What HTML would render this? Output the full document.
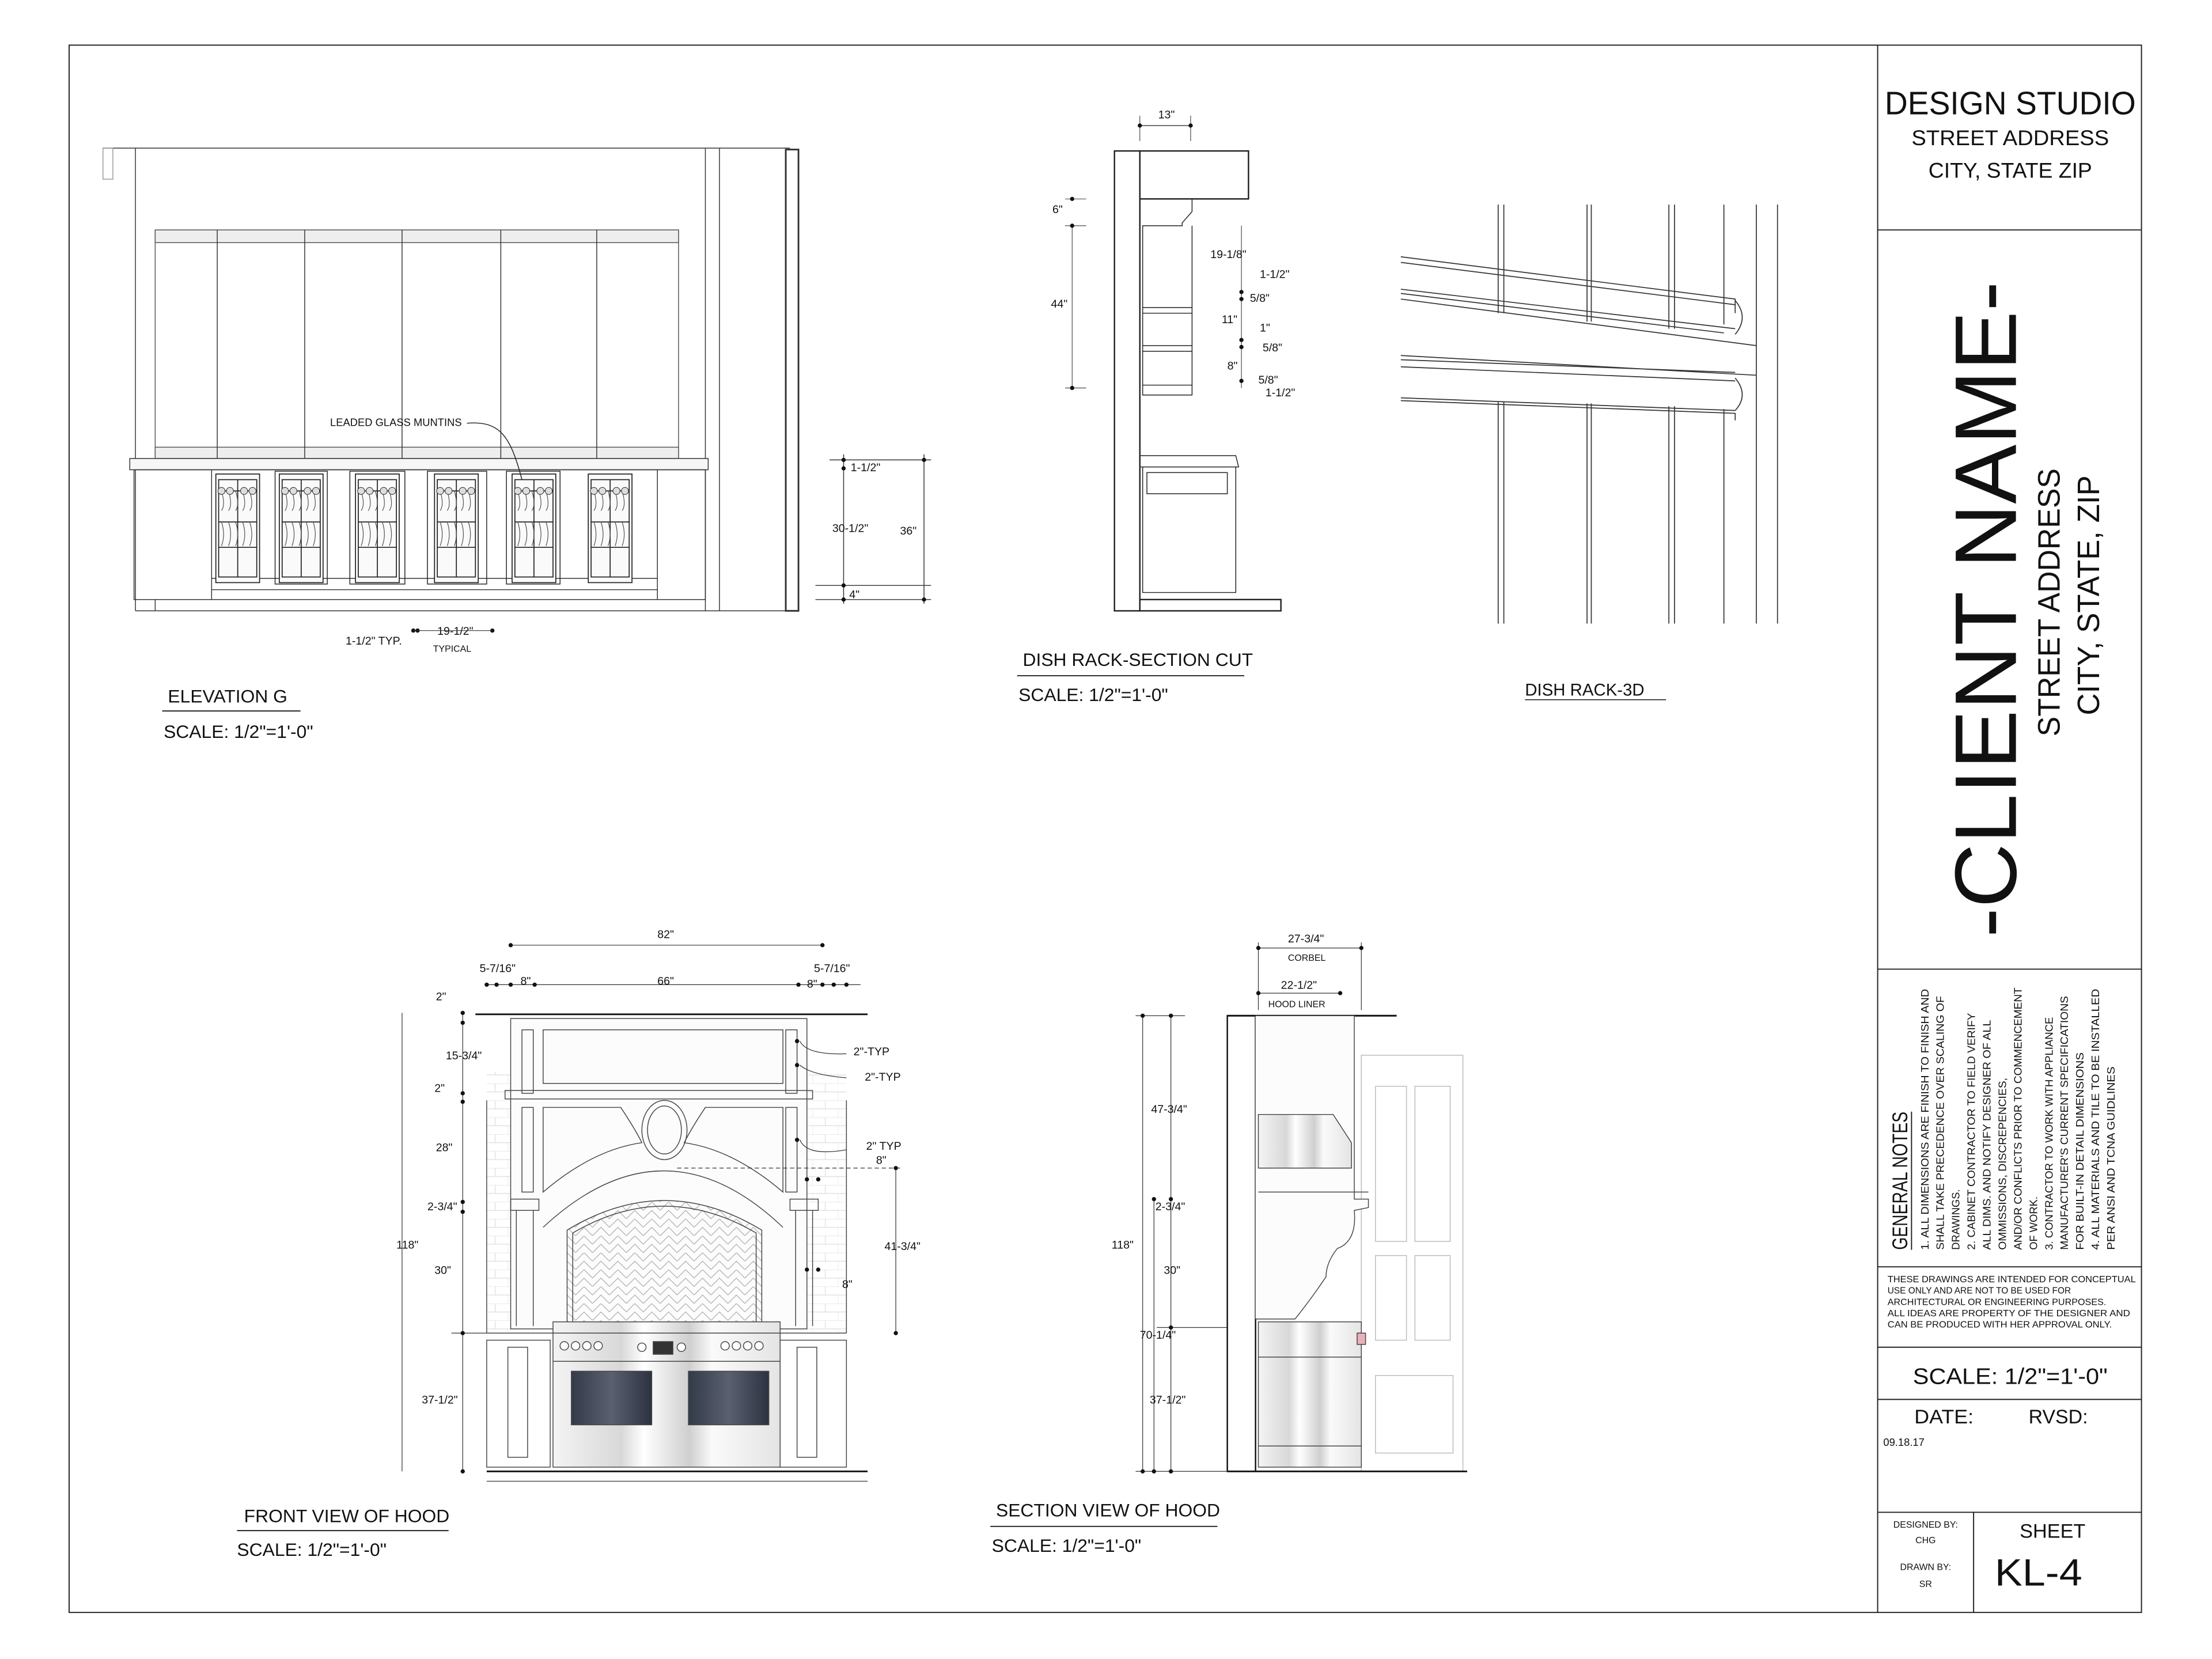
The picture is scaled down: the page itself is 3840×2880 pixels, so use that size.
<!DOCTYPE html>
<html><head><meta charset="utf-8"><style>
html,body{margin:0;padding:0;background:#fff;}
svg{display:block;}
text{font-family:"Liberation Sans",sans-serif;fill:#111;}
</style></head><body>
<svg width="3840" height="2880" viewBox="0 0 1568 1176" xmlns="http://www.w3.org/2000/svg">
<defs>
<pattern id="herr" width="12" height="12" patternUnits="userSpaceOnUse">
<path d="M0 6 L6 0 L12 6 M0 12 L6 6 L12 12" stroke="#aaa" stroke-width="0.5" fill="none"/>
</pattern>
<pattern id="tile" width="18" height="12" patternUnits="userSpaceOnUse">
<path d="M0 0 H18 M0 6 H18 M9 0 V6 M0 6 V12" stroke="#ddd" stroke-width="0.5" fill="none"/>
</pattern>
<linearGradient id="steel" x1="0" x2="1">
<stop offset="0" stop-color="#f4f4f4"/><stop offset="0.3" stop-color="#d8d8d8"/><stop offset="0.4" stop-color="#ffffff"/><stop offset="0.6" stop-color="#cfcfcf"/><stop offset="0.7" stop-color="#fafafa"/><stop offset="1" stop-color="#e4e4e4"/>
</linearGradient>
<linearGradient id="oven" x1="0" x2="1">
<stop offset="0" stop-color="#333a48"/><stop offset="0.5" stop-color="#5a6070"/><stop offset="1" stop-color="#2c3240"/>
</linearGradient>
<g id="door" fill="none" stroke="#222" stroke-width="0.7">
<rect x="0" y="0" width="31" height="77" fill="#fafafa"/>
<rect x="2" y="4" width="27" height="69" fill="none"/>
<line x1="15.5" y1="4" x2="15.5" y2="73"/>
<line x1="2" y1="12" x2="29" y2="12"/><line x1="2" y1="34" x2="29" y2="34"/><line x1="2" y1="52" x2="29" y2="52"/>
<path fill="none" d="M4 12 q3 10 0 14 M9 12 q3 10 0 14 M14 12 q3 10 0 14 M19 12 q3 10 0 14 M24 12 q3 10 0 14" stroke="#555" stroke-width="0.5"/>
<path fill="none" d="M4 34 q3 9 0 17 M9 34 q3 9 0 17 M14 34 q3 9 0 17 M19 34 q3 9 0 17 M24 34 q3 9 0 17" stroke="#555" stroke-width="0.5"/>
<circle cx="4" cy="12" r="2.5" fill="#ddd" stroke-width="0.4"/><circle cx="10" cy="12" r="2.5" fill="#ddd" stroke-width="0.4"/><circle cx="20" cy="12" r="2.5" fill="#ddd" stroke-width="0.4"/><circle cx="26" cy="12" r="2.5" fill="#ddd" stroke-width="0.4"/>
</g>
</defs>

<g fill="none" stroke="#222" stroke-width="0.8">
<rect x="49" y="32" width="1469" height="1111"/>
<line x1="1331" y1="32" x2="1331" y2="1143"/>
<line x1="1331" y1="163" x2="1518" y2="163"/>
<line x1="1331" y1="687" x2="1518" y2="687"/>
<line x1="1331" y1="898" x2="1518" y2="898"/>
<line x1="1331" y1="955" x2="1518" y2="955"/>
<line x1="1331" y1="992" x2="1518" y2="992"/>
<line x1="1331" y1="1072" x2="1518" y2="1072"/>
<line x1="1399" y1="1072" x2="1399" y2="1143"/>
</g>

<!-- ELEVATION G -->
<g fill="none" stroke="#333" stroke-width="0.6">
<line x1="73" y1="105" x2="560" y2="105"/>
<rect x="73" y="105" width="7" height="22" stroke="#999"/>
<line x1="96" y1="105" x2="96" y2="433"/>
<line x1="500" y1="105" x2="500" y2="433"/>
<line x1="510" y1="105" x2="510" y2="433"/>
<rect x="557" y="106" width="9" height="327" stroke-width="1.2"/>
<line x1="96" y1="433" x2="560" y2="433"/>
<rect x="110" y="163" width="371" height="162" stroke="#555"/>
<rect x="110" y="163" width="371" height="9" fill="#eee" stroke="#555"/>
<rect x="110" y="317" width="371" height="8" fill="#eee" stroke="#555"/>
<line x1="154" y1="163" x2="154" y2="325"/><line x1="216" y1="163" x2="216" y2="325"/>
<line x1="285" y1="163" x2="285" y2="325"/><line x1="355" y1="163" x2="355" y2="325"/>
<line x1="423" y1="163" x2="423" y2="325"/>
<rect x="92" y="325" width="410" height="8" fill="#f6f6f6"/>
<rect x="95" y="333" width="405" height="92"/>
<line x1="150" y1="333" x2="150" y2="425"/><line x1="466" y1="333" x2="466" y2="425"/>
<line x1="150" y1="410" x2="466" y2="410"/><line x1="150" y1="418" x2="466" y2="418"/>
<line x1="110" y1="425" x2="110" y2="433"/>
<line x1="588" y1="326" x2="660" y2="326"/><line x1="578" y1="415" x2="660" y2="415"/><line x1="578" y1="425" x2="660" y2="425"/>
<line x1="598" y1="322" x2="598" y2="428"/>
<line x1="655" y1="322" x2="655" y2="428"/>
</g>
<use href="#door" x="153" y="336"/>
<use href="#door" x="198" y="336"/>
<use href="#door" x="252" y="336"/>
<use href="#door" x="308" y="336"/>
<use href="#door" x="363" y="336"/>
<use href="#door" x="417" y="336"/>
<g fill="none" stroke="#222" stroke-width="0.6">
<rect x="195" y="334" width="37" height="80"/>
<rect x="248" y="334" width="39" height="80"/>
<rect x="303" y="334" width="42" height="80"/>
<rect x="359" y="334" width="38" height="80"/>
</g>
<path d="M331 300 C355 298 362 310 370 340" fill="none" stroke="#222" stroke-width="0.6"/>
<text x="234" y="302" font-size="7.5">LEADED GLASS MUNTINS</text>
<g font-size="8">
<text x="603" y="334">1-1/2"</text><text x="590" y="377">30-1/2"</text><text x="638" y="379">36"</text><text x="602" y="424">4"</text>
<text x="245" y="457">1-1/2" TYP.</text><text x="310" y="450">19-1/2"</text><text x="307" y="462" font-size="6.5">TYPICAL</text>
</g>
<g fill="#111"><circle cx="598" cy="326" r="1.5"/><circle cx="598" cy="332" r="1.5"/><circle cx="598" cy="415" r="1.5"/><circle cx="598" cy="425" r="1.5"/><circle cx="655" cy="326" r="1.5"/><circle cx="655" cy="425" r="1.5"/><circle cx="293" cy="447" r="1.5"/><circle cx="296" cy="447" r="1.5"/><circle cx="349" cy="447" r="1.5"/></g>
<line x1="293" y1="447" x2="349" y2="447" stroke="#333" stroke-width="0.5"/>
<text x="119" y="498" font-size="13">ELEVATION G</text>
<line x1="115" y1="504" x2="213" y2="504" stroke="#222" stroke-width="0.8"/>
<text x="116" y="523" font-size="13">SCALE: 1/2"=1'-0"</text>

<!-- DISH RACK SECTION -->
<g fill="none" stroke="#222" stroke-width="0.8">
<rect x="790" y="107" width="18" height="326" stroke-width="1"/>
<rect x="808" y="107" width="77" height="34" stroke-width="1"/>
<rect x="808" y="425" width="100" height="8" stroke-width="1"/>
<path d="M845 141 L845 150 L838 158 L838 160 L810 160 L810 280 L845 280 L845 160" stroke-width="0.6"/>
<line x1="810" y1="218" x2="845" y2="218" stroke-width="0.6"/><line x1="810" y1="222" x2="845" y2="222" stroke-width="0.6"/>
<line x1="810" y1="245" x2="845" y2="245" stroke-width="0.6"/><line x1="810" y1="249" x2="845" y2="249" stroke-width="0.6"/>
<line x1="810" y1="273" x2="845" y2="273" stroke-width="0.6"/>
<path d="M808 323 L876 323 L878 331 L808 331 M810 331 L810 420 L876 420 L876 331 M813 335 L870 335 L870 350 L813 350 Z" stroke-width="0.6"/>
<line x1="808" y1="89" x2="844" y2="89" stroke-width="0.5"/><line x1="808" y1="82" x2="808" y2="100" stroke-width="0.4"/><line x1="844" y1="82" x2="844" y2="100" stroke-width="0.4"/>
<line x1="755" y1="141" x2="770" y2="141" stroke-width="0.4"/><line x1="755" y1="160" x2="770" y2="160" stroke-width="0.4"/><line x1="755" y1="275" x2="770" y2="275" stroke-width="0.4"/>
<line x1="760" y1="160" x2="760" y2="275" stroke-width="0.4"/>
<line x1="880" y1="160" x2="880" y2="275" stroke-width="0.4"/>
</g>
<g fill="#111"><circle cx="808" cy="89" r="1.5"/><circle cx="844" cy="89" r="1.5"/><circle cx="760" cy="141" r="1.5"/><circle cx="760" cy="160" r="1.5"/><circle cx="760" cy="275" r="1.5"/><circle cx="880" cy="207" r="1.5"/><circle cx="880" cy="212" r="1.5"/><circle cx="880" cy="241" r="1.5"/><circle cx="880" cy="246" r="1.5"/><circle cx="880" cy="270" r="1.5"/></g>
<g font-size="8">
<text x="821" y="84">13"</text><text x="746" y="151">6"</text><text x="745" y="218">44"</text>
<text x="858" y="183">19-1/8"</text><text x="893" y="197">1-1/2"</text><text x="886" y="214">5/8"</text>
<text x="866" y="229">11"</text><text x="893" y="235">1"</text><text x="895" y="249">5/8"</text>
<text x="870" y="262">8"</text><text x="892" y="272">5/8"</text><text x="897" y="281">1-1/2"</text>
</g>
<text x="725" y="472" font-size="13">DISH RACK-SECTION CUT</text>
<line x1="721" y1="479" x2="882" y2="479" stroke="#222" stroke-width="0.8"/>
<text x="722" y="497" font-size="13">SCALE: 1/2"=1'-0"</text>

<!-- DISH RACK 3D -->
<g fill="none" stroke="#333" stroke-width="0.7">
<path d="M1062 145 V222 M1066 145 V222 M1125 145 V228 M1128 145 V228 M1183 145 V233 M1187 145 V233 M1222 145 V230 M1245 145 V442 M1260 145 V442"/>
<path d="M993 182 L1230 212 L1230 222 M993 186 L1230 216"/>
<path d="M993 205 L1230 233 M993 208 L1222 236 M1230 213 Q1240 225 1230 237 M993 212 L1245 245"/>
<path d="M993 252 L1245 266 M993 255 L1230 264 M993 260 L1230 270 M1230 268 Q1240 280 1230 291 M993 282 L1230 291 M993 284 L1230 293 L1230 298"/>
<path d="M1062 285 V442 M1066 285 V442 M1125 286 V442 M1128 286 V442 M1183 288 V442 M1187 288 V442 M1222 290 V442"/>
</g>
<text x="1081" y="493" font-size="12">DISH RACK-3D</text>
<line x1="1081" y1="496" x2="1181" y2="496" stroke="#222" stroke-width="0.7"/>

<!-- FRONT VIEW OF HOOD -->
<g fill="none" stroke="#444" stroke-width="0.6">
<rect x="345" y="760" width="255" height="185" fill="url(#tile)" stroke="none"/>
<line x1="337" y1="719" x2="615" y2="719" stroke="#111" stroke-width="1.2"/>
<rect x="362" y="722" width="210" height="220" fill="#fcfcfc"/>
<rect x="370" y="730" width="8" height="45"/><rect x="557" y="730" width="8" height="45"/>
<rect x="385" y="730" width="170" height="38"/>
<rect x="358" y="773" width="218" height="6"/>
<rect x="370" y="785" width="8" height="60"/><rect x="557" y="785" width="8" height="60"/>
<path d="M385 785 L440 785 Q450 800 455 810 Q420 815 385 845 Z"/>
<path d="M555 785 L500 785 Q490 800 485 810 Q520 815 555 845 Z"/>
<ellipse cx="471" cy="801" rx="16" ry="21"/><ellipse cx="471" cy="801" rx="12" ry="17"/>
<path d="M385 870 Q471 790 555 870"/>
<path d="M402 940 L402 872 Q471 830 540 872 L540 940 Z" fill="url(#herr)"/>
<path d="M406 940 L406 874 Q471 836 536 874 L536 940"/>
<rect x="362" y="850" width="20" height="8"/><rect x="560" y="850" width="20" height="8"/>
<line x1="366" y1="858" x2="366" y2="940"/><line x1="378" y1="858" x2="378" y2="940"/>
<line x1="564" y1="858" x2="564" y2="940"/><line x1="576" y1="858" x2="576" y2="940"/>
<line x1="345" y1="945" x2="600" y2="945"/>
<rect x="345" y="950" width="45" height="90"/><rect x="553" y="950" width="47" height="90"/>
<rect x="360" y="955" width="14" height="78"/><rect x="565" y="955" width="14" height="78"/>
<line x1="345" y1="1043" x2="615" y2="1043" stroke="#111" stroke-width="1.2"/>
<line x1="345" y1="1050" x2="615" y2="1050"/>
<line x1="345" y1="780" x2="345" y2="945"/><line x1="600" y1="780" x2="600" y2="945"/>
</g>
<g stroke="#444" stroke-width="0.6">
<rect x="392" y="937" width="161" height="103" fill="url(#steel)"/>
<line x1="392" y1="945" x2="553" y2="945"/><line x1="392" y1="965" x2="553" y2="965"/>
<rect x="405" y="972" width="57" height="38" fill="url(#oven)"/>
<rect x="488" y="972" width="57" height="38" fill="url(#oven)"/>
<rect x="463" y="951" width="14" height="9" fill="#333"/>
<g fill="#fff"><circle cx="400" cy="954" r="3"/><circle cx="408" cy="954" r="3"/><circle cx="416" cy="954" r="3"/><circle cx="424" cy="954" r="3"/><circle cx="455" cy="955" r="3"/><circle cx="483" cy="955" r="3"/><circle cx="514" cy="954" r="3"/><circle cx="522" cy="954" r="3"/><circle cx="530" cy="954" r="3"/><circle cx="538" cy="954" r="3"/></g>
</g>
<g fill="none" stroke="#333" stroke-width="0.5">
<line x1="362" y1="670" x2="583" y2="670"/>
<line x1="345" y1="698" x2="610" y2="698"/>
<line x1="285" y1="718" x2="285" y2="1043"/>
<line x1="328" y1="718" x2="328" y2="1043"/>
<line x1="635" y1="828" x2="635" y2="945"/>
<line x1="480" y1="828" x2="640" y2="828" stroke-dasharray="3 2"/>
<line x1="320" y1="945" x2="345" y2="945"/>
<path d="M567 738 Q572 748 600 747 M567 755 Q575 762 600 764 M567 808 Q572 820 600 815"/>
</g>
<g fill="#111">
<circle cx="362" cy="670" r="1.5"/><circle cx="583" cy="670" r="1.5"/>
<circle cx="345" cy="698" r="1.5"/><circle cx="352" cy="698" r="1.5"/><circle cx="362" cy="698" r="1.5"/><circle cx="379" cy="698" r="1.5"/><circle cx="566" cy="698" r="1.5"/><circle cx="583" cy="698" r="1.5"/><circle cx="591" cy="698" r="1.5"/><circle cx="600" cy="698" r="1.5"/>
<circle cx="328" cy="718" r="1.5"/><circle cx="328" cy="725" r="1.5"/><circle cx="328" cy="775" r="1.5"/><circle cx="328" cy="781" r="1.5"/><circle cx="328" cy="852" r="1.5"/><circle cx="328" cy="859" r="1.5"/><circle cx="328" cy="945" r="1.5"/><circle cx="328" cy="1043" r="1.5"/>
<circle cx="635" cy="828" r="1.5"/><circle cx="635" cy="945" r="1.5"/>
<circle cx="565" cy="738" r="1.5"/><circle cx="565" cy="755" r="1.5"/><circle cx="565" cy="808" r="1.5"/><circle cx="572" cy="836" r="1.5"/><circle cx="580" cy="836" r="1.5"/><circle cx="572" cy="900" r="1.5"/><circle cx="580" cy="900" r="1.5"/>
</g>
<g font-size="8">
<text x="466" y="665">82"</text>
<text x="340" y="689">5-7/16"</text><text x="577" y="689">5-7/16"</text>
<text x="369" y="698">8"</text><text x="466" y="698">66"</text><text x="572" y="700">8"</text>
<text x="309" y="709">2"</text><text x="316" y="751">15-3/4"</text><text x="308" y="774">2"</text>
<text x="309" y="816">28"</text><text x="303" y="858">2-3/4"</text><text x="281" y="885">118"</text>
<text x="308" y="903">30"</text><text x="299" y="995">37-1/2"</text><text x="627" y="886">41-3/4"</text>
<text x="605" y="748">2"-TYP</text><text x="613" y="766">2"-TYP</text><text x="614" y="815">2" TYP</text><text x="621" y="825">8"</text><text x="597" y="913">8"</text>
</g>
<text x="173" y="1079" font-size="13">FRONT VIEW OF HOOD</text>
<line x1="168" y1="1085" x2="318" y2="1085" stroke="#222" stroke-width="0.8"/>
<text x="168" y="1103" font-size="13">SCALE: 1/2"=1'-0"</text>

<!-- SECTION VIEW OF HOOD -->
<g fill="none" stroke="#444" stroke-width="0.6">
<rect x="965" y="748" width="72" height="295" stroke="#bbb"/>
<rect x="975" y="770" width="22" height="110" stroke="#bbb"/><rect x="1003" y="770" width="25" height="110" stroke="#bbb"/>
<rect x="975" y="890" width="22" height="60" stroke="#bbb"/><rect x="1003" y="890" width="25" height="60" stroke="#bbb"/>
<rect x="975" y="975" width="55" height="55" stroke="#bbb"/>
<rect x="870" y="720" width="20" height="323" stroke="#111" stroke-width="1"/>
<line x1="870" y1="720" x2="990" y2="720" stroke="#111" stroke-width="1.2"/>
<line x1="870" y1="1043" x2="1040" y2="1043" stroke="#111" stroke-width="1.2"/>
<path d="M890 720 L960 720 L960 850 L970 850 L970 856 L960 858 Q962 880 948 885 Q940 895 940 905 Q930 920 918 935 L890 935" fill="#fcfcfc"/>
<path d="M892 790 L945 790 L958 810 L958 828 L892 828 Z" fill="url(#steel)"/>
<line x1="892" y1="845" x2="970" y2="845"/>
<rect x="892" y="937" width="73" height="103" fill="url(#steel)"/>
<line x1="892" y1="962" x2="965" y2="962"/>
<line x1="892" y1="1025" x2="965" y2="1025"/>
<rect x="962" y="945" width="6" height="8" fill="#e8b0b8"/>
</g>
<g fill="none" stroke="#333" stroke-width="0.5">
<line x1="892" y1="672" x2="965" y2="672"/><line x1="892" y1="704" x2="950" y2="704"/>
<line x1="892" y1="668" x2="892" y2="716"/><line x1="965" y1="668" x2="965" y2="716"/>
<line x1="810" y1="720" x2="810" y2="1043"/><line x1="830" y1="720" x2="830" y2="1043"/><line x1="818" y1="850" x2="818" y2="1043"/>
<line x1="805" y1="720" x2="840" y2="720"/><line x1="805" y1="1043" x2="870" y2="1043"/><line x1="820" y1="941" x2="870" y2="941"/>
</g>
<g fill="#111"><circle cx="892" cy="672" r="1.5"/><circle cx="965" cy="672" r="1.5"/><circle cx="892" cy="704" r="1.5"/><circle cx="950" cy="704" r="1.5"/>
<circle cx="810" cy="720" r="1.5"/><circle cx="830" cy="720" r="1.5"/><circle cx="810" cy="1043" r="1.5"/><circle cx="830" cy="1043" r="1.5"/><circle cx="818" cy="1043" r="1.5"/><circle cx="830" cy="941" r="1.5"/><circle cx="830" cy="850" r="1.5"/><circle cx="818" cy="850" r="1.5"/></g>
<g font-size="8">
<text x="913" y="668">27-3/4"</text><text x="913" y="681" font-size="6.5">CORBEL</text>
<text x="908" y="701">22-1/2"</text><text x="899" y="714" font-size="6.5">HOOD LINER</text>
<text x="816" y="789">47-3/4"</text><text x="819" y="858">2-3/4"</text><text x="788" y="885">118"</text>
<text x="825" y="903">30"</text><text x="808" y="949">70-1/4"</text><text x="815" y="995">37-1/2"</text>
</g>
<text x="706" y="1075" font-size="13">SECTION VIEW OF HOOD</text>
<line x1="702" y1="1082" x2="863" y2="1082" stroke="#222" stroke-width="0.8"/>
<text x="703" y="1100" font-size="13">SCALE: 1/2"=1'-0"</text>

<!-- TITLE BLOCK -->
<text x="1425" y="81" font-size="23" text-anchor="middle" textLength="178" lengthAdjust="spacingAndGlyphs">DESIGN STUDIO</text>
<text x="1425" y="103" font-size="15" text-anchor="middle" textLength="140" lengthAdjust="spacingAndGlyphs">STREET ADDRESS</text>
<text x="1425" y="126" font-size="15" text-anchor="middle" textLength="116" lengthAdjust="spacingAndGlyphs">CITY, STATE ZIP</text>
<text transform="translate(1429,432) rotate(-90)" font-size="62" text-anchor="middle" textLength="465" lengthAdjust="spacingAndGlyphs">-CLIENT NAME-</text>
<text transform="translate(1460,427) rotate(-90)" font-size="22" text-anchor="middle" textLength="190" lengthAdjust="spacingAndGlyphs">STREET ADDRESS</text>
<text transform="translate(1488,422) rotate(-90)" font-size="22" text-anchor="middle" textLength="170" lengthAdjust="spacingAndGlyphs">CITY, STATE, ZIP</text>
<text transform="translate(1352,886) rotate(-90)" font-size="15" textLength="98" lengthAdjust="spacingAndGlyphs">GENERAL NOTES</text>
<line x1="1355" y1="886" x2="1355" y2="788" stroke="#222" stroke-width="0.8"/>
<g font-size="7.5">
<text transform="translate(1367,886) rotate(-90)" textLength="185" lengthAdjust="spacingAndGlyphs">1. ALL DIMENSIONS ARE FINISH TO FINISH AND</text>
<text transform="translate(1378,886) rotate(-90)" textLength="180" lengthAdjust="spacingAndGlyphs">SHALL TAKE PRECEDENCE OVER SCALING OF</text>
<text transform="translate(1389,886) rotate(-90)">DRAWINGS.</text>
<text transform="translate(1400,886) rotate(-90)" textLength="168" lengthAdjust="spacingAndGlyphs">2. CABINET CONTRACTOR TO FIELD VERIFY</text>
<text transform="translate(1411,886) rotate(-90)" textLength="163" lengthAdjust="spacingAndGlyphs">ALL DIMS. AND NOTIFY DESIGNER OF ALL</text>
<text transform="translate(1422,886) rotate(-90)" textLength="122" lengthAdjust="spacingAndGlyphs">OMMISSIONS, DISCREPENCIES,</text>
<text transform="translate(1433,886) rotate(-90)" textLength="186" lengthAdjust="spacingAndGlyphs">AND/OR CONFLICTS PRIOR TO COMMENCEMENT</text>
<text transform="translate(1444,886) rotate(-90)">OF WORK.</text>
<text transform="translate(1455,886) rotate(-90)" textLength="165" lengthAdjust="spacingAndGlyphs">3. CONTRACTOR TO WORK WITH APPLIANCE</text>
<text transform="translate(1466,886) rotate(-90)" textLength="180" lengthAdjust="spacingAndGlyphs">MANUFACTURER'S CURRENT SPECIFICATIONS</text>
<text transform="translate(1477,886) rotate(-90)" textLength="140" lengthAdjust="spacingAndGlyphs">FOR BUILT-IN DETAIL DIMENSIONS</text>
<text transform="translate(1488,886) rotate(-90)" textLength="185" lengthAdjust="spacingAndGlyphs">4. ALL MATERIALS AND TILE TO BE INSTALLED</text>
<text transform="translate(1499,886) rotate(-90)" textLength="130" lengthAdjust="spacingAndGlyphs">PER ANSI AND TCNA GUIDLINES</text>
</g>
<g font-size="6.3">
<text x="1338" y="909" textLength="176" lengthAdjust="spacingAndGlyphs">THESE DRAWINGS ARE INTENDED FOR  CONCEPTUAL</text>
<text x="1338" y="917" textLength="130" lengthAdjust="spacingAndGlyphs">USE ONLY AND ARE NOT TO BE USED FOR</text>
<text x="1338" y="925" textLength="155" lengthAdjust="spacingAndGlyphs">ARCHITECTURAL OR ENGINEERING PURPOSES.</text>
<text x="1338" y="933" textLength="172" lengthAdjust="spacingAndGlyphs"> ALL IDEAS  ARE PROPERTY OF THE DESIGNER AND</text>
<text x="1338" y="941" textLength="159" lengthAdjust="spacingAndGlyphs">CAN BE PRODUCED WITH HER APPROVAL ONLY.</text>
</g>
<text x="1425" y="981" font-size="16" text-anchor="middle" textLength="138" lengthAdjust="spacingAndGlyphs">SCALE: 1/2"=1'-0"</text>
<text x="1357" y="1009" font-size="14" textLength="42" lengthAdjust="spacingAndGlyphs">DATE:</text>
<text x="1438" y="1009" font-size="14" textLength="42" lengthAdjust="spacingAndGlyphs">RVSD:</text>
<text x="1335" y="1025" font-size="7.5">09.18.17</text>
<g font-size="6.5" text-anchor="middle">
<text x="1365" y="1083">DESIGNED BY:</text><text x="1365" y="1094">CHG</text>
<text x="1365" y="1113">DRAWN BY:</text><text x="1365" y="1125">SR</text>
</g>
<text x="1455" y="1090" font-size="14" text-anchor="middle">SHEET</text>
<text x="1445" y="1124" font-size="27" text-anchor="middle" textLength="62" lengthAdjust="spacingAndGlyphs">KL-4</text>
</svg>
</body></html>
